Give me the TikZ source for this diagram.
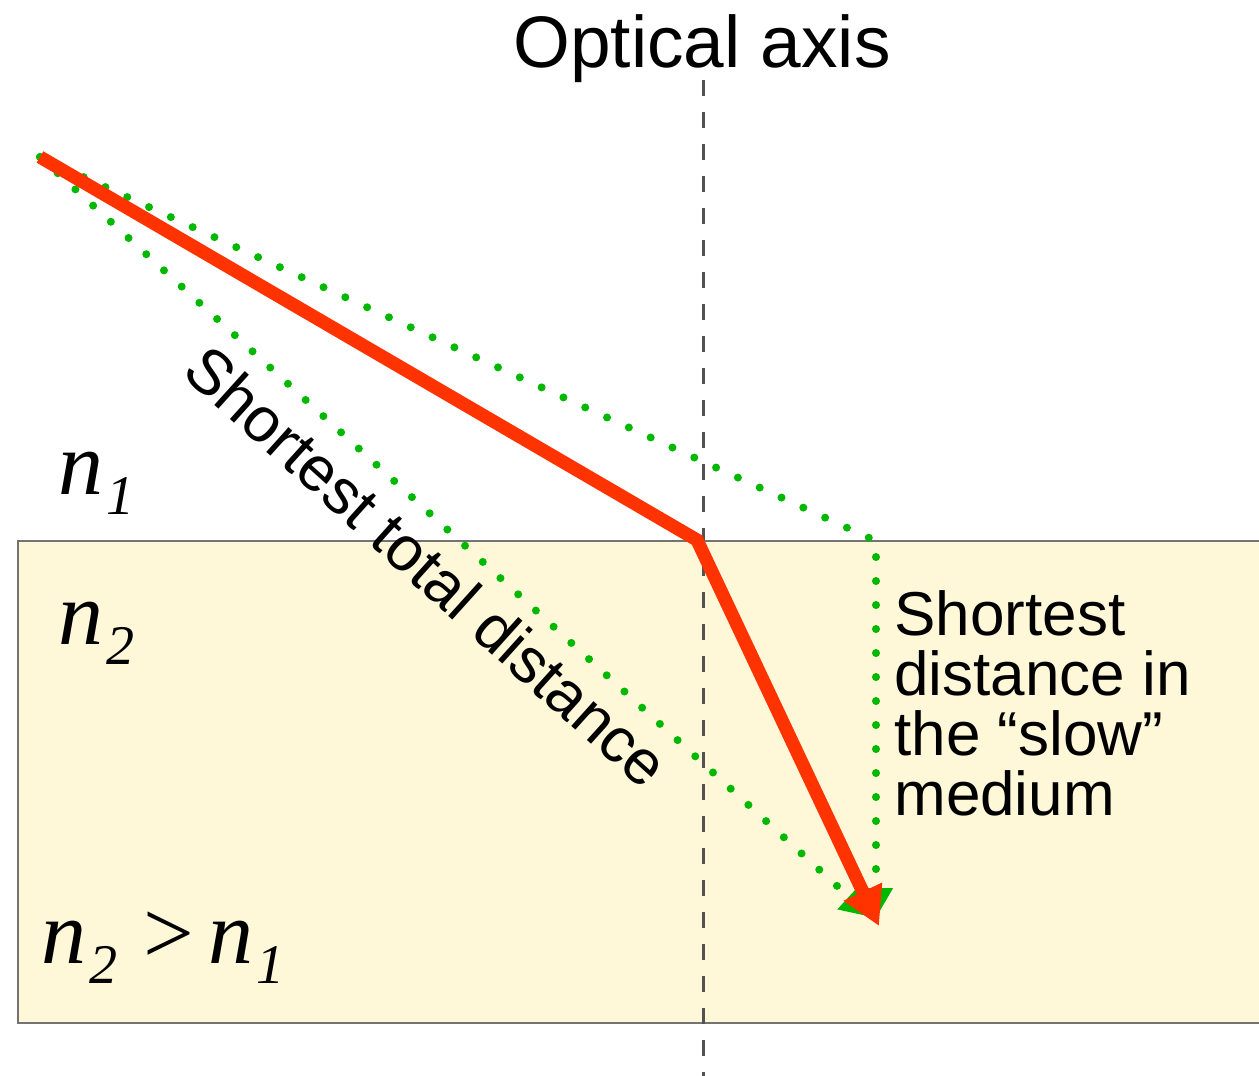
\documentclass[tikz,border=0pt]{standalone}
\usepackage{fontspec}
\setmainfont{Liberation Sans}
\newfontfamily\timesfont{Liberation Serif}
\usetikzlibrary{arrows.meta}

\definecolor{slowfill}{RGB}{254,247,216}
\definecolor{rayred}{RGB}{255,51,0}
\definecolor{pathgreen}{RGB}{0,184,0}

\newcommand{\idx}[1]{{\timesfont\itshape\fontsize{45}{45}\selectfont n\hspace{1.5pt}\raisebox{-10pt}{\fontsize{28}{28}\selectfont #1}}}

\begin{document}
\begin{tikzpicture}[
    x=0.5pt, y=-0.5pt,
    ray/.style={rayred, line width=6.6pt, -{Triangle[length=19pt, width=20pt]}},
    guess/.style={pathgreen, line width=4pt, line cap=round, dash pattern=on 0pt off 12pt,
                  -{Triangle[length=15pt, width=16pt]}},
    axis/.style={black!68, line width=1.3pt, dash pattern=on 8pt off 8pt},
    sidetext/.style={inner sep=0pt, font=\fontsize{31}{30}\selectfont}
]

\clip (0,0) rectangle (1259,1076);

% slow medium
\draw[black!55, line width=0.8pt, fill=slowfill] (18,541) rectangle (1270,1023);

\coordinate (src) at (40,157);
\coordinate (bend) at (697,540);
\coordinate (corner) at (876,541);
\coordinate (vtip) at (876,918);
\coordinate (dtip) at (871,917);
\coordinate (tgt) at (879,926);

\node[inner sep=0pt, anchor=base, font=\fontsize{36.5}{36}\selectfont] (axtitle) at (702,68) {Optical axis};
\coordinate (axtop) at (703.5,80);
\coordinate (axbot) at (703.5,1076);
\draw[axis] (axtop) -- (axbot);

% the two candidate paths
\draw[guess] (src) -- (corner) -- (vtip);
\draw[guess] (src) -- (dtip);

% the actual ray
\draw[ray] (src) -- (bend) -- (tgt);

\node[sidetext, font=\fontsize{31.5}{30}\selectfont, rotate=-42] (total) at (427,566) {Shortest total distance};
\node[sidetext, anchor=north west, align=left] (slow) at (894,590)
    {Shortest\\distance in\\the “slow”\\medium};

\node[inner sep=0pt, anchor=base west] (n1) at (58,494) {\idx{1}};
\node[inner sep=0pt, anchor=base west] (n2) at (58,644) {\idx{2}};
\node[inner sep=0pt, anchor=base west] (cmp) at (41,963)
    {\idx{2}\hspace{13pt}{\timesfont\fontsize{45}{45}\selectfont >}\hspace{7pt}\idx{1}};

\end{tikzpicture}
\end{document}
